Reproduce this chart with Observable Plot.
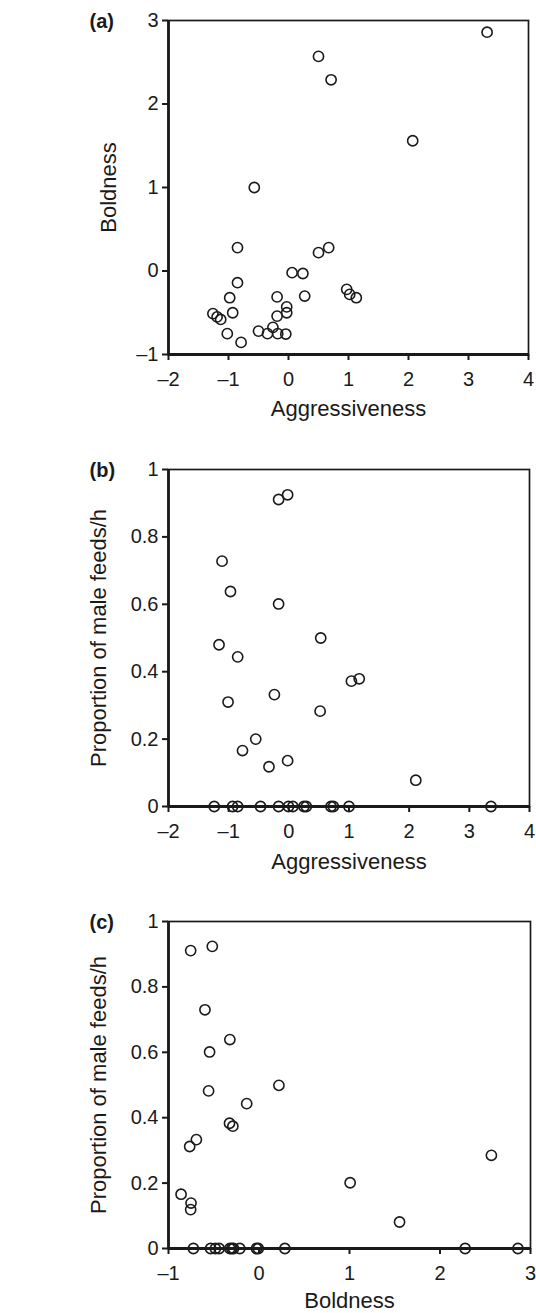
<!DOCTYPE html>
<html>
<head>
<meta charset="utf-8">
<script src="https://cdn.jsdelivr.net/npm/d3@7"></script>
<script src="https://cdn.jsdelivr.net/npm/@observablehq/plot@0.6"></script>
<style>
  html, body { margin: 0; padding: 0; background: #fff; }
  #chart { width: 536px; }
  #chart svg { display: block; }
</style>
</head>
<body>
<div id="chart"></div>
<script>
// Panel (a): Aggressiveness vs Boldness
const aggA  = [3.31, 0.50, 0.71, 2.07, -0.57, -0.85, 0.50, 0.67, 0.06, 0.24, -0.85, -0.98, -0.19, 0.27, 0.97, 1.02, 1.13, -1.26, -1.19, -1.13, -0.93, -0.03, -0.03, -0.19, -1.02, -0.79, -0.50, -0.35, -0.26, -0.18, -0.045];
const boldA = [2.86, 2.57, 2.29, 1.56, 1.00, 0.28, 0.22, 0.28, -0.02, -0.03, -0.14, -0.32, -0.31, -0.30, -0.22, -0.28, -0.32, -0.51, -0.55, -0.58, -0.50, -0.43, -0.50, -0.54, -0.75, -0.855, -0.72, -0.75, -0.675, -0.75, -0.755];

// Panel (b): Aggressiveness vs Proportion of male feeds/h
const aggB  = [-0.17, -0.02, -1.11, -0.97, -0.17, -1.16, 0.53, -0.85, 1.04, 1.17, -1.01, -0.24, 0.52, -0.55, -0.77, -0.33, -0.02, 2.11,
               -1.24, -0.935, -0.85, -0.47, -0.17, -0.006, 0.067, 0.25, 0.29, 0.70, 0.74, 1.00, 3.36];
const propB = [0.911, 0.925, 0.728, 0.638, 0.601, 0.480, 0.500, 0.444, 0.372, 0.379, 0.310, 0.332, 0.283, 0.200, 0.166, 0.118, 0.136, 0.078,
               0, 0, 0, 0, 0, 0, 0, 0, 0, 0, 0, 0, 0];

// Panel (c): Boldness vs Proportion of male feeds/h
const boldC = [-0.755, -0.516, -0.597, -0.322, -0.546, -0.557, 0.22, -0.136, -0.326, -0.289, -0.692, -0.766, -0.861, -0.751, -0.755, 1.007, 1.553, 2.568,
               -0.725, -0.535, -0.482, -0.44, -0.322, -0.30, -0.282, -0.212, -0.028, -0.008, 0.286, 2.278, 2.861];
const propC = [0.911, 0.924, 0.730, 0.639, 0.601, 0.482, 0.499, 0.443, 0.383, 0.374, 0.333, 0.312, 0.166, 0.139, 0.119, 0.201, 0.081, 0.285,
               0, 0, 0, 0, 0, 0, 0, 0, 0, 0, 0, 0, 0];

// Tick values
const xTicksAgg  = [-2, -1, 0, 1, 2, 3, 4];
const yTicksBold = [-1, 0, 1, 2, 3];
const yTicksProp = [0, 0.2, 0.4, 0.6, 0.8, 1];
const xTicksBold = [-1, 0, 1, 2, 3];

const ink = "#1a1a1a";
const font = "'Liberation Sans', Arial, Helvetica, sans-serif";
const fmt = d => (d < 0 ? "\u2013" : "") + String(Math.abs(d));

function panel(o) {
  const data = o.xs.map((x, i) => ({x, y: o.ys[i]}));
  return Plot.plot({
    width: 536,
    height: o.height,
    marginTop: o.mt,
    marginBottom: o.mb,
    marginLeft: 168,
    marginRight: o.mr,
    style: {fontFamily: font, fontSize: "20px", color: ink, background: "#fff"},
    x: {domain: o.xDomain},
    y: {domain: o.yDomain},
    marks: [
      Plot.frame({stroke: ink, strokeWidth: 1.7}),
      Plot.ruleX([o.xDomain[0]], {stroke: ink, strokeWidth: 2.8}),
      Plot.ruleY([o.yDomain[0]], {stroke: ink, strokeWidth: 2.8}),
      Plot.axisX(o.xTicks, {tickSize: 6, tickPadding: 11, tickFormat: fmt, label: null, stroke: ink, strokeWidth: 2, fill: ink, fontSize: 20}),
      Plot.axisY(o.yTicks, {tickSize: 6, tickPadding: 4, tickFormat: fmt, label: null, stroke: ink, strokeWidth: 2, fill: ink, fontSize: 20}),
      Plot.dot(data, {x: "x", y: "y", r: 5.1, stroke: ink, strokeWidth: 1.6, fill: "none"}),
      Plot.text([o.xLabel], {frameAnchor: "bottom", dy: o.xDy, fontSize: 22, fill: ink, textAnchor: "middle", lineAnchor: "middle"}),
      Plot.text([o.yLabel], {frameAnchor: "left", dx: o.yDx, rotate: -90, fontSize: 22, fill: ink, textAnchor: "middle", lineAnchor: "middle"}),
      Plot.text([o.tag], {frameAnchor: "top-left", dx: -79, dy: 1, textAnchor: "start", lineAnchor: "middle", fontSize: 20, fontWeight: "bold", fill: ink})
    ]
  });
}

const chart = document.getElementById("chart");
chart.append(panel({xs: aggA, ys: boldA, xDomain: [-2, 4], yDomain: [-1, 3], xTicks: xTicksAgg, yTicks: yTicksBold,
  xLabel: "Aggressiveness", yLabel: "Boldness", tag: "(a)", height: 440, mt: 20, mb: 86, mr: 8, yDx: -60, xDy: 54}));
chart.append(panel({xs: aggB, ys: propB, xDomain: [-2, 4], yDomain: [0, 1], xTicks: xTicksAgg, yTicks: yTicksProp,
  xLabel: "Aggressiveness", yLabel: "Proportion of male feeds/h", tag: "(b)", height: 450, mt: 29, mb: 84, mr: 7, yDx: -70, xDy: 55}));
chart.append(panel({xs: boldC, ys: propC, xDomain: [-1, 3], yDomain: [0, 1], xTicks: xTicksBold, yTicks: yTicksProp,
  xLabel: "Boldness", yLabel: "Proportion of male feeds/h", tag: "(c)", height: 423, mt: 31, mb: 65, mr: 6, yDx: -70, xDy: 52}));
</script>
</body>
</html>
